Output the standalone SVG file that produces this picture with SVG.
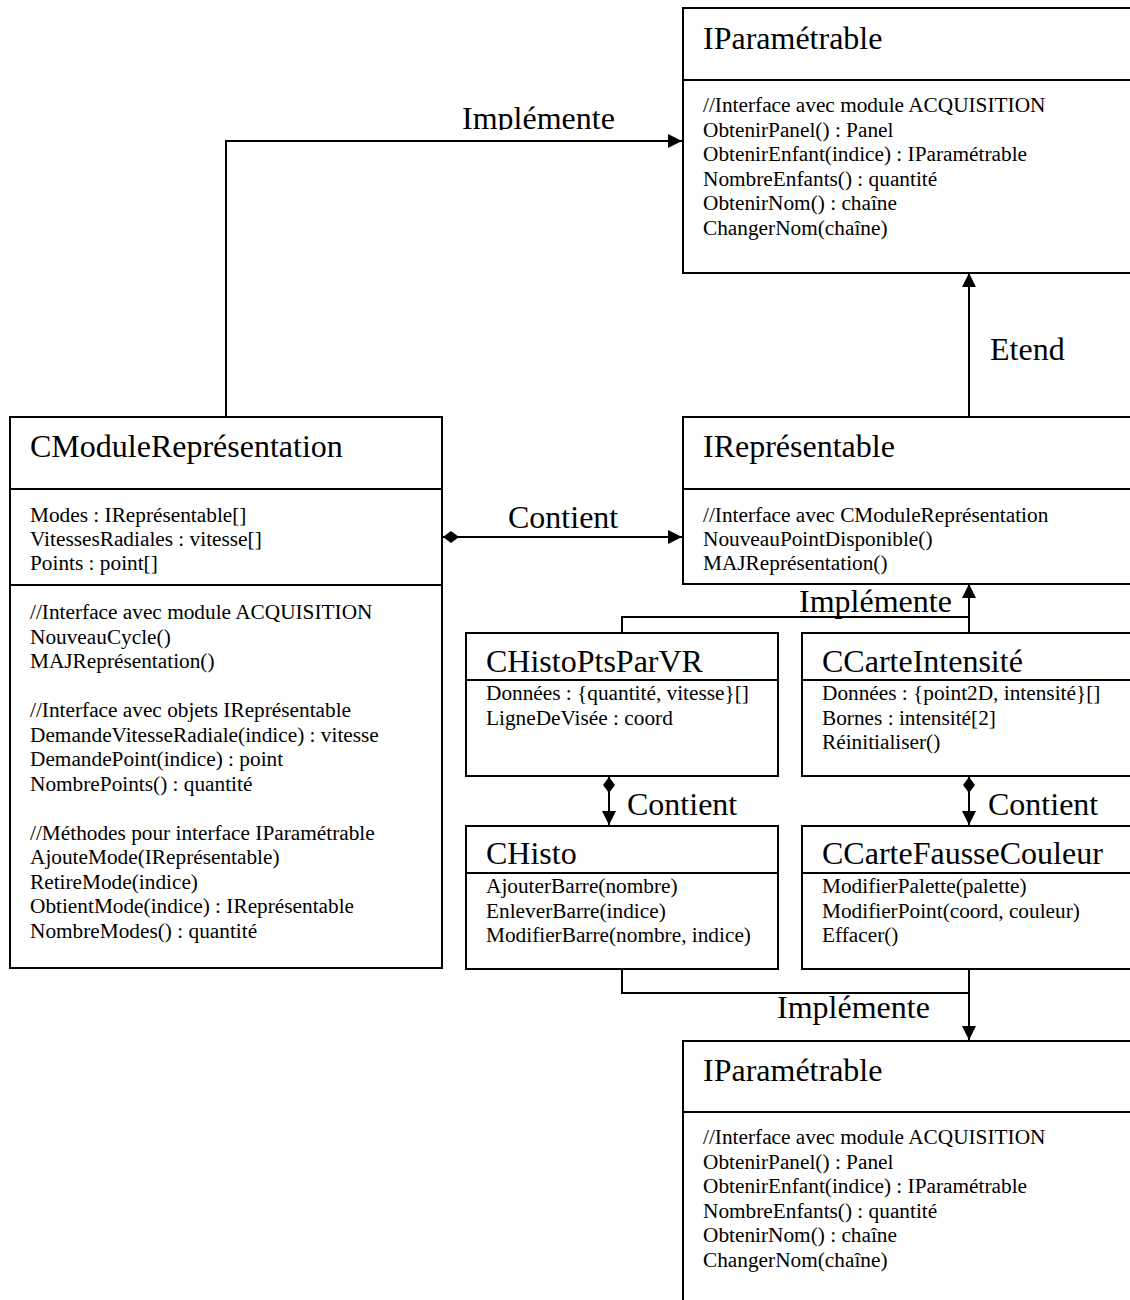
<svg xmlns="http://www.w3.org/2000/svg" width="1130" height="1300" viewBox="0 0 1130 1300">
<style>
.box{fill:#fff;stroke:#000;stroke-width:2}
.div{stroke:#000;stroke-width:2}
.t{font-family:"Liberation Serif","Times New Roman",serif;font-size:32px;fill:#000}
.b{font-family:"Liberation Serif","Times New Roman",serif;font-size:21.3px;fill:#000}
.c{fill:none;stroke:#000;stroke-width:2}
</style>
<defs>
<marker id="arr" viewBox="0 0 14 14" refX="14" refY="7" markerWidth="14" markerHeight="14" markerUnits="userSpaceOnUse" orient="auto">
<path d="M0,0 L14,7 L0,14 Z" fill="#000"/>
</marker>
<marker id="dia" viewBox="0 0 16 12" refX="0" refY="6" markerWidth="16" markerHeight="12" markerUnits="userSpaceOnUse" orient="auto">
<path d="M0,6 L8,0 L16,6 L8,12 Z" fill="#000"/>
</marker>
<clipPath id="clipTop"><rect x="400" y="90" width="260" height="40"/></clipPath>
</defs>
<rect width="1130" height="1300" fill="#fff"/>

<g id="connectors">
<path class="c" d="M226,417 V141 H682" marker-end="url(#arr)"/>
<path class="c" d="M969,417 V273" marker-end="url(#arr)"/>
<path class="c" d="M443,537 H682" marker-start="url(#dia)" marker-end="url(#arr)"/>
<path class="c" d="M622,633 V617 H969"/>
<path class="c" d="M969,633 V584" marker-end="url(#arr)"/>
<path class="c" d="M609,777 V825" marker-start="url(#dia)" marker-end="url(#arr)"/>
<path class="c" d="M969,777 V825" marker-start="url(#dia)" marker-end="url(#arr)"/>
<path class="c" d="M622,969 V993 H969"/>
<path class="c" d="M969,969 V1040" marker-end="url(#arr)"/>
<text class="t" x="462" y="129" clip-path="url(#clipTop)">Implémente</text>
<text class="t" x="990" y="360">Etend</text>
<text class="t" x="508" y="528">Contient</text>
<text class="t" x="799" y="612">Implémente</text>
<text class="t" x="627" y="815">Contient</text>
<text class="t" x="988" y="815">Contient</text>
<text class="t" x="777" y="1018">Implémente</text>
</g>

<g id="iparametrable-top">
<rect class="box" x="683" y="8" width="460" height="265"/>
<line class="div" x1="683" y1="80" x2="1143" y2="80"/>
<text class="t" x="703" y="49">IParamétrable</text>
<text class="b" x="703" y="112">//Interface avec module ACQUISITION</text>
<text class="b" x="703" y="136.5">ObtenirPanel() : Panel</text>
<text class="b" x="703" y="161">ObtenirEnfant(indice) : IParamétrable</text>
<text class="b" x="703" y="185.5">NombreEnfants() : quantité</text>
<text class="b" x="703" y="210">ObtenirNom() : chaîne</text>
<text class="b" x="703" y="234.5">ChangerNom(chaîne)</text>
</g>

<g id="cmodule">
<rect class="box" x="10" y="417" width="432" height="551"/>
<line class="div" x1="10" y1="489" x2="442" y2="489"/>
<line class="div" x1="10" y1="585" x2="442" y2="585"/>
<text class="t" x="30" y="457">CModuleReprésentation</text>
<text class="b" x="30" y="522">Modes : IReprésentable[]</text>
<text class="b" x="30" y="546">VitessesRadiales : vitesse[]</text>
<text class="b" x="30" y="570">Points : point[]</text>
<text class="b" x="30" y="619">//Interface avec module ACQUISITION</text>
<text class="b" x="30" y="643.5">NouveauCycle()</text>
<text class="b" x="30" y="668">MAJReprésentation()</text>
<text class="b" x="30" y="717">//Interface avec objets IReprésentable</text>
<text class="b" x="30" y="741.5">DemandeVitesseRadiale(indice) : vitesse</text>
<text class="b" x="30" y="766">DemandePoint(indice) : point</text>
<text class="b" x="30" y="790.5">NombrePoints() : quantité</text>
<text class="b" x="30" y="839.5">//Méthodes pour interface IParamétrable</text>
<text class="b" x="30" y="864">AjouteMode(IReprésentable)</text>
<text class="b" x="30" y="888.5">RetireMode(indice)</text>
<text class="b" x="30" y="913">ObtientMode(indice) : IReprésentable</text>
<text class="b" x="30" y="937.5">NombreModes() : quantité</text>
</g>

<g id="irepresentable">
<rect class="box" x="683" y="417" width="460" height="167"/>
<line class="div" x1="683" y1="489" x2="1143" y2="489"/>
<text class="t" x="703" y="457">IReprésentable</text>
<text class="b" x="703" y="522">//Interface avec CModuleReprésentation</text>
<text class="b" x="703" y="546">NouveauPointDisponible()</text>
<text class="b" x="703" y="570">MAJReprésentation()</text>
</g>

<g id="chistoptsparvr">
<rect class="box" x="466" y="633" width="312" height="143"/>
<line class="div" x1="466" y1="680" x2="778" y2="680"/>
<text class="t" x="486" y="672">CHistoPtsParVR</text>
<text class="b" x="486" y="700">Données : {quantité, vitesse}[]</text>
<text class="b" x="486" y="724.5">LigneDeVisée : coord</text>
</g>

<g id="ccarteintensite">
<rect class="box" x="802" y="633" width="340" height="143"/>
<line class="div" x1="802" y1="680" x2="1142" y2="680"/>
<text class="t" x="822" y="672">CCarteIntensité</text>
<text class="b" x="822" y="700">Données : {point2D, intensité}[]</text>
<text class="b" x="822" y="724.5">Bornes : intensité[2]</text>
<text class="b" x="822" y="749">Réinitialiser()</text>
</g>

<g id="chisto">
<rect class="box" x="466" y="826" width="312" height="143"/>
<line class="div" x1="466" y1="873" x2="778" y2="873"/>
<text class="t" x="486" y="864">CHisto</text>
<text class="b" x="486" y="893">AjouterBarre(nombre)</text>
<text class="b" x="486" y="917.5">EnleverBarre(indice)</text>
<text class="b" x="486" y="942">ModifierBarre(nombre, indice)</text>
</g>

<g id="ccartefaussecouleur">
<rect class="box" x="802" y="826" width="340" height="143"/>
<line class="div" x1="802" y1="873" x2="1142" y2="873"/>
<text class="t" x="822" y="864">CCarteFausseCouleur</text>
<text class="b" x="822" y="893">ModifierPalette(palette)</text>
<text class="b" x="822" y="917.5">ModifierPoint(coord, couleur)</text>
<text class="b" x="822" y="942">Effacer()</text>
</g>

<g id="iparametrable-bottom">
<rect class="box" x="683" y="1041" width="460" height="280"/>
<line class="div" x1="683" y1="1112" x2="1143" y2="1112"/>
<text class="t" x="703" y="1081">IParamétrable</text>
<text class="b" x="703" y="1144">//Interface avec module ACQUISITION</text>
<text class="b" x="703" y="1168.5">ObtenirPanel() : Panel</text>
<text class="b" x="703" y="1193">ObtenirEnfant(indice) : IParamétrable</text>
<text class="b" x="703" y="1217.5">NombreEnfants() : quantité</text>
<text class="b" x="703" y="1242">ObtenirNom() : chaîne</text>
<text class="b" x="703" y="1266.5">ChangerNom(chaîne)</text>
</g>
</svg>
